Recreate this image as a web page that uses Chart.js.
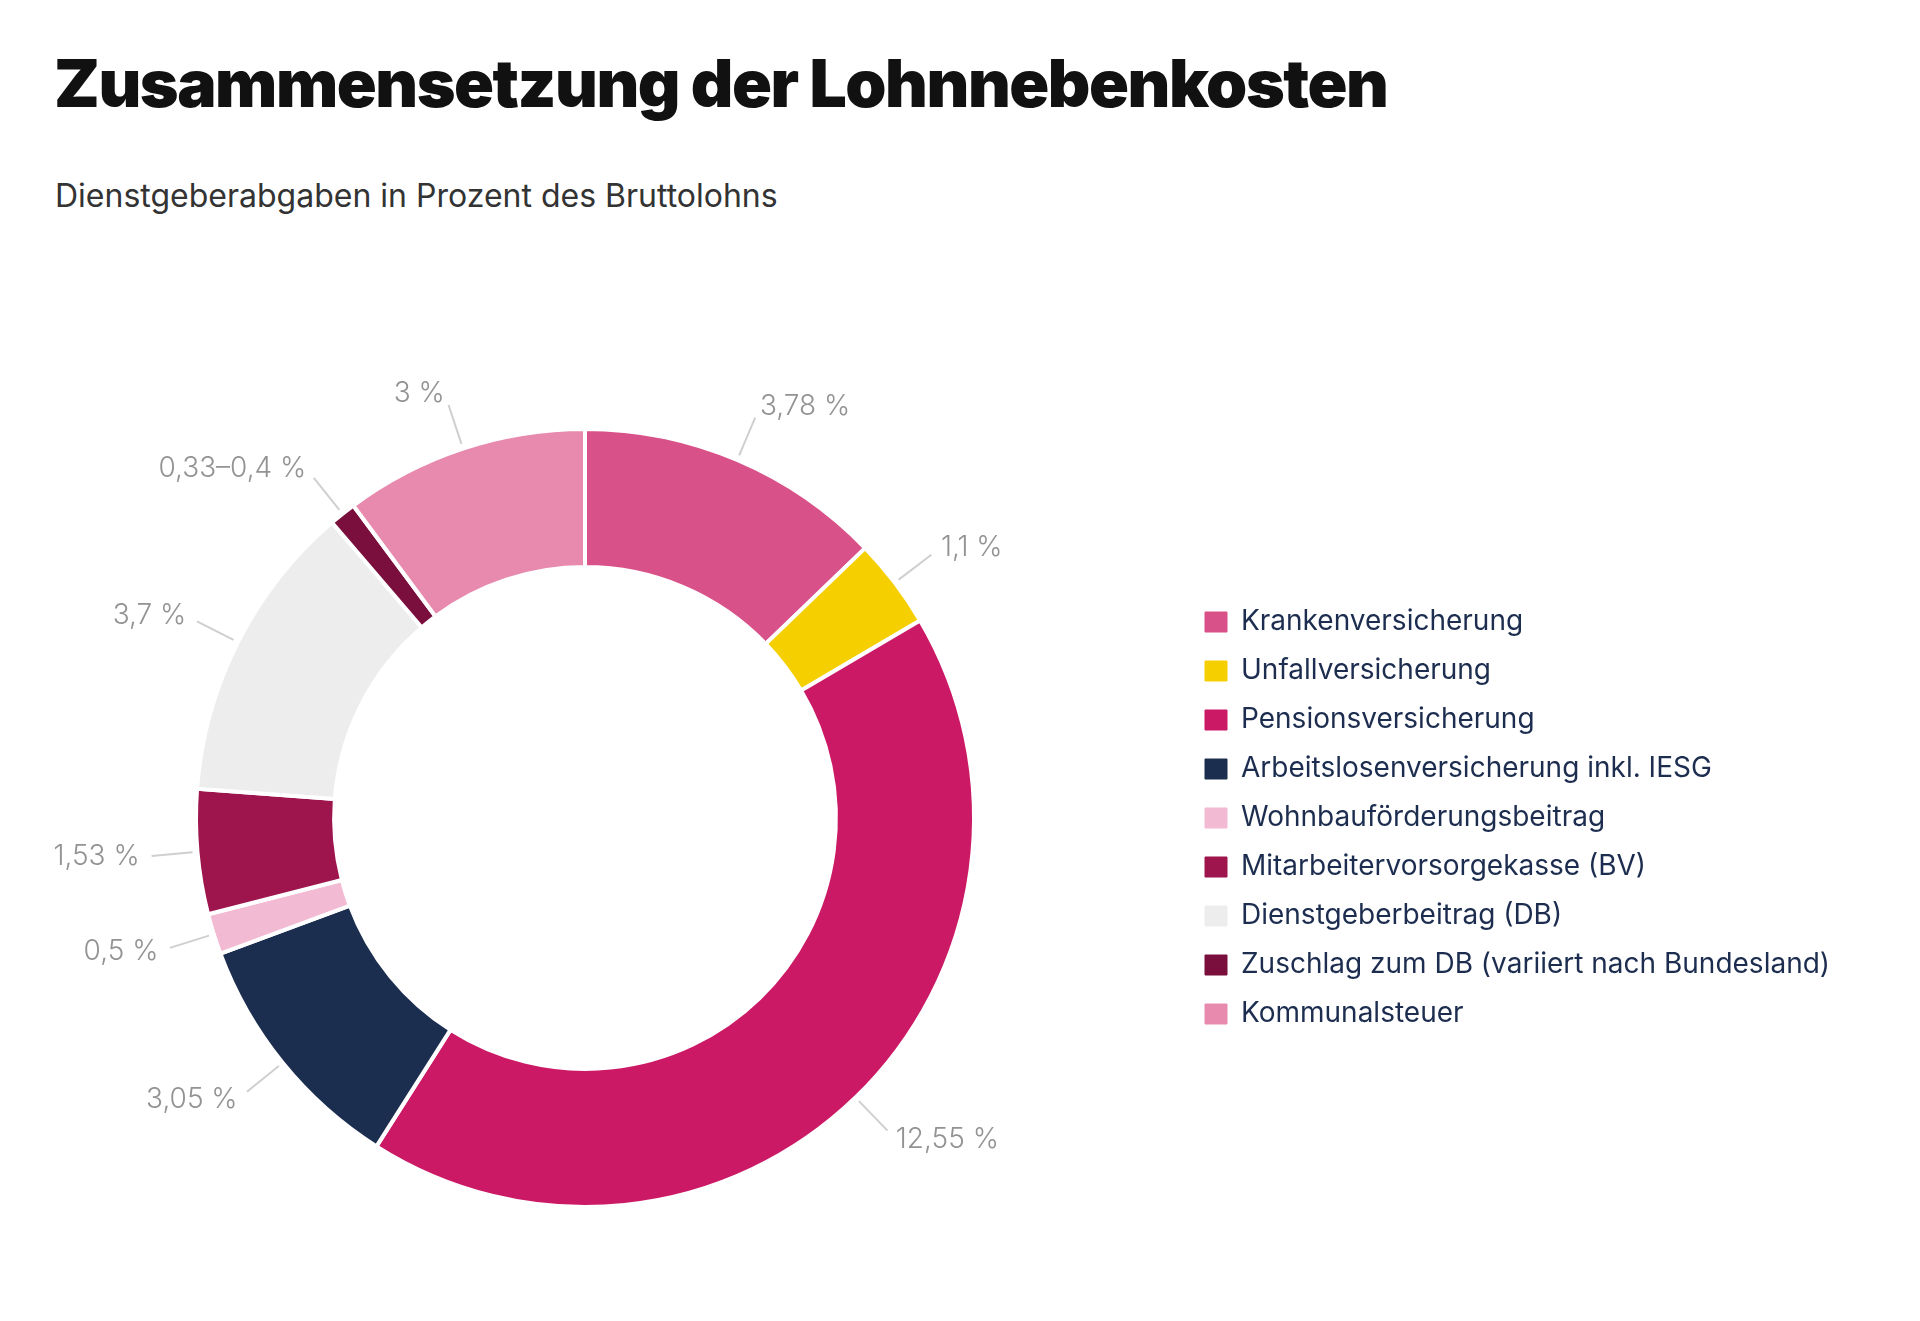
<!DOCTYPE html>
<html lang="de">
<head>
<meta charset="utf-8">
<title>Zusammensetzung der Lohnnebenkosten</title>
<script src="https://cdn.jsdelivr.net/npm/chart.js@4.4.1/dist/chart.umd.min.js"></script>
<style>
    html, body { margin: 0; padding: 0; background: #fff; width: 1920px; height: 1321px; overflow: hidden; }
    body { position: relative; font-family: 'Inter', sans-serif; }
    h1 {
        position: absolute; left: 54px; top: 50px; margin: 0;
        font-size: 66px; line-height: 1; font-weight: 900; color: #111;
        letter-spacing: -1.45px;
    }
    .sub {
        position: absolute; left: 55px; top: 180px; margin: 0;
        font-size: 32px; line-height: 1; font-weight: 400; color: #333;
    }
    #pie { position: absolute; left: -40px; top: 0; }
</style>
</head>
<body>
<h1>Zusammensetzung der Lohnnebenkosten</h1>
<p class="sub">Dienstgeberabgaben in Prozent des Bruttolohns</p>
<canvas id="pie" width="1960" height="1321"></canvas>
<script>
// Dienstgeberabgaben in % des Bruttolohns
const categories = [
    'Krankenversicherung',
    'Unfallversicherung',
    'Pensionsversicherung',
    'Arbeitslosenversicherung inkl. IESG',
    'Wohnbauförderungsbeitrag',
    'Mitarbeitervorsorgekasse (BV)',
    'Dienstgeberbeitrag (DB)',
    'Zuschlag zum DB (variiert nach Bundesland)',
    'Kommunalsteuer'
];
const shares = [3.78, 1.1, 12.55, 3.05, 0.5, 1.53, 3.7, 0.33, 3];
const shareLabels = ['3,78 %', '1,1 %', '12,55 %', '3,05 %', '0,5 %', '1,53 %', '3,7 %', '0,33–0,4 %', '3 %'];
const colors = ['#d95189', '#f5cf00', '#cb1966', '#1c2e4f', '#f3bad3', '#9e144d', '#ededed', '#7a0e3d', '#e78aae'];

const legendFont = { family: 'Inter', size: 28 };
const legendPad = 21, legendBox = 22;

// Legende soll bei x=1224 (Canvas) beginnen -> rechten Rand aus Textbreite berechnen
const mctx = document.createElement('canvas').getContext('2d');
mctx.font = legendFont.size + 'px ' + legendFont.family;
const maxText = Math.max(...categories.map(c => mctx.measureText(c).width));
const legendWidth = legendPad + legendBox + legendFont.size / 2 + maxText + 10;
const padRight = Math.max(1960 - 1224 - legendWidth, 0);

// Beschriftungen mit Hinweislinien außerhalb des Rings
const outsideLabels = {
    id: 'outsideLabels',
    afterDatasetsDraw(chart) {
        const ctx = chart.ctx;
        const arcs = chart.getDatasetMeta(0).data;
        ctx.save();
        ctx.font = '300 28px Inter';
        ctx.textBaseline = 'middle';
        arcs.forEach((arc, i) => {
            const p = arc.getProps(['x', 'y', 'startAngle', 'endAngle', 'outerRadius'], true);
            const mid = (p.startAngle + p.endAngle) / 2;
            const cos = Math.cos(mid), sin = Math.sin(mid);
            const r = p.outerRadius;
            ctx.strokeStyle = '#cfcfcf';
            ctx.lineWidth = 2;
            ctx.beginPath();
            ctx.moveTo(p.x + cos * (r + 5), p.y + sin * (r + 5));
            ctx.lineTo(p.x + cos * (r + 46), p.y + sin * (r + 46));
            ctx.stroke();
            ctx.fillStyle = '#939393';
            ctx.textAlign = cos >= 0 ? 'left' : 'right';
            ctx.fillText(shareLabels[i], p.x + cos * (r + 58), p.y + sin * (r + 58));
        });
        ctx.restore();
    }
};

new Chart(document.getElementById('pie'), {
    type: 'doughnut',
    data: {
        labels: categories,
        datasets: [{
            data: shares,
            backgroundColor: colors,
            borderColor: '#fff',
            borderWidth: 4,
            hoverOffset: 0
        }]
    },
    options: {
        responsive: false,
        animation: false,
        devicePixelRatio: 1,
        cutout: '64.5%',
        layout: { padding: { top: 427, bottom: 112, left: 26, right: padRight } },
        plugins: {
            legend: {
                position: 'right',
                align: 'center',
                labels: {
                    boxWidth: legendBox,
                    boxHeight: 20,
                    padding: legendPad,
                    color: '#1c2d4f',
                    font: legendFont,
                    // Kästchen ohne weißen Rand der Segmente
                    generateLabels: (chart) => Chart.overrides.doughnut.plugins.legend.labels
                        .generateLabels(chart)
                        .map(item => ({ ...item, strokeStyle: item.fillStyle, lineWidth: 1 }))
                }
            },
            tooltip: { enabled: false }
        }
    },
    plugins: [outsideLabels]
});
</script>
</body>
</html>
